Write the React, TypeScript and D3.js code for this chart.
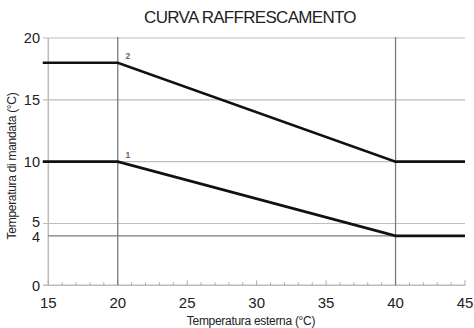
import React from "react";
import * as d3 from "d3";

const title = "CURVA RAFFRESCAMENTO";
const xTitle = "Temperatura esterna (°C)";
const yTitle = "Temperatura di mandata (°C)";
const xTicks = [15, 20, 25, 30, 35, 40, 45];
const yTicks = [0, 4, 5, 10, 15, 20];
const lightGrid = [5, 10, 15, 20];
const darkH = [4];
const darkV = [20, 40];
const curve2X = [14.6, 20, 40, 45];
const curve2Y = [18, 18, 10, 10];
const curve1X = [14.6, 20, 40, 45];
const curve1Y = [10, 10, 4, 4];
const pointLabels = [
  { text: "2", x: 20, y: 18 },
  { text: "1", x: 20, y: 10 },
];

const W = 474;
const H = 328;

export default function App() {
  const x = d3.scaleLinear().domain([15, 45]).range([48.3, 465]);
  const y = d3.scaleLinear().domain([0, 20]).range([285.3, 38]);
  const line = d3
    .line<[number, number]>()
    .x((d) => x(d[0]))
    .y((d) => y(d[1]));
  const c2 = curve2X.map((v, i) => [v, curve2Y[i]] as [number, number]);
  const c1 = curve1X.map((v, i) => [v, curve1Y[i]] as [number, number]);
  const minor = d3.range(15, 45.01, 1);
  const font = "'Liberation Sans', Arial, sans-serif";
  const yOff = (v: number) => (v === 5 ? -2 : v === 4 ? 1 : 0);
  return (
    <svg
      width={W}
      height={H}
      style={{ position: "absolute", left: 0, top: 0, background: "#fff" }}
      fontFamily={font}
    >
      <text x={250} y={23} textAnchor="middle" fontSize={17} letterSpacing={-0.7} fill="#222">
        {title}
      </text>
      {lightGrid.map((v) => (
        <line key={"g" + v} x1={43} x2={x(45)} y1={y(v)} y2={y(v)} stroke="#bdbdbd" strokeWidth={1.2} />
      ))}
      <line x1={x(15)} x2={x(15)} y1={y(20)} y2={y(0)} stroke="#bdbdbd" strokeWidth={1.5} />
      <line x1={43} x2={x(45)} y1={y(0)} y2={y(0)} stroke="#bdbdbd" strokeWidth={1.5} />
      {minor.map((v) => (
        <line key={"m" + v} x1={x(v)} x2={x(v)} y1={y(0)} y2={y(0) - (v % 5 === 0 ? 5 : 3)} stroke="#aaaaaa" strokeWidth={1} />
      ))}
      {darkH.map((v) => (
        <line key={"dh" + v} x1={x(15)} x2={x(45)} y1={y(v)} y2={y(v)} stroke="#7a7a7a" strokeWidth={1.3} />
      ))}
      {darkV.map((v) => (
        <line key={"dv" + v} x1={x(v)} x2={x(v)} y1={y(20) - 1} y2={y(0)} stroke="#7a7a7a" strokeWidth={1.3} />
      ))}
      <path d={line(c2) || ""} fill="none" stroke="#111" strokeWidth={2.6} />
      <path d={line(c1) || ""} fill="none" stroke="#111" strokeWidth={2.6} />
      {pointLabels.map((p) => (
        <text key={p.text} x={x(p.x) + 10} y={y(p.y) - 4} fontSize={8.5} fontWeight="bold" fill="#666" textAnchor="middle">
          {p.text}
        </text>
      ))}
      {yTicks.map((v) => (
        <text key={"yt" + v} x={40} y={y(v) + yOff(v)} dy="0.36em" textAnchor="end" fontSize={14.5} fill="#222">
          {v}
        </text>
      ))}
      {xTicks.map((v) => (
        <text key={"xt" + v} x={x(v)} y={308} textAnchor="middle" fontSize={15} fill="#222">
          {v}
        </text>
      ))}
      <text x={251} y={325} textAnchor="middle" fontSize={12} letterSpacing={-0.3} fill="#222">
        {xTitle}
      </text>
      <text
        transform={`translate(16, ${166}) rotate(-90)`}
        textAnchor="middle"
        fontSize={12}
        letterSpacing={-0.3}
        fill="#222"
      >
        {yTitle}
      </text>
    </svg>
  );
}
